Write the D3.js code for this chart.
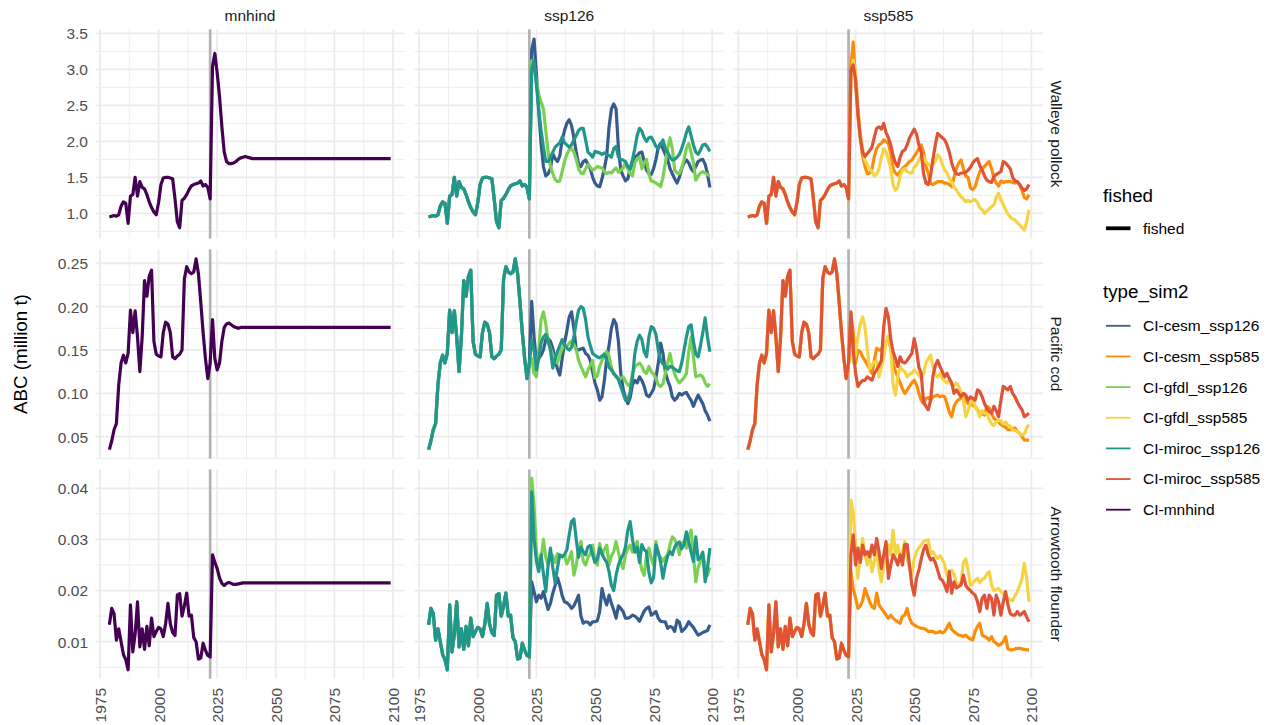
<!DOCTYPE html>
<html>
<head>
<meta charset="utf-8">
<script src="https://cdn.jsdelivr.net/npm/d3@7"></script>
<style>
  body { margin: 0; background: #ffffff; }
  svg text { font-family: "Liberation Sans", Arial, sans-serif; }
</style>
</head>
<body>
<svg id="chart" width="1266" height="725"></svg>
<script>
// ---------------------------------------------------------------
// Facet labels, series names and ticks
// ---------------------------------------------------------------
const scenarios = ["mnhind", "ssp126", "ssp585"];
const species = ["Walleye pollock", "Pacific cod", "Arrowtooth flounder"];
const seriesNames = ["CI-cesm_ssp126", "CI-cesm_ssp585", "CI-gfdl_ssp126", "CI-gfdl_ssp585",
                     "CI-miroc_ssp126", "CI-miroc_ssp585", "CI-mnhind"];
const seriesScenario = ["ssp126", "ssp585", "ssp126", "ssp585", "ssp126", "ssp585", "mnhind"];
const seriesColors = ["#365c8d", "#fb8d0c", "#7ad151", "#f5d444", "#21968b", "#df5337", "#440154"];

const xTicks = [1975, 2000, 2025, 2050, 2075, 2100];
const yTicksPollock = [1.0, 1.5, 2.0, 2.5, 3.0, 3.5];
const yTicksCod = [0.05, 0.10, 0.15, 0.20, 0.25];
const yTicksArrow = [0.01, 0.02, 0.03, 0.04];
const projectionStartLine = 2022;

const histStartYear = 1979;   // hindcast 1979-2022
const projStartYear = 2023;   // projections 2023-2099

// ---------------------------------------------------------------
// Hindcast ABC (million t), 1979-2022
// ---------------------------------------------------------------
const histPollock = [0.95,
  0.96, 0.97, 0.96, 0.98, 1.10, 1.16, 1.14, 0.86, 1.24, 1.26,
  1.50, 1.24, 1.44, 1.36, 1.34, 1.26, 1.16, 1.08, 1.02, 0.98,
  1.15, 1.40, 1.49, 1.50, 1.50, 1.49, 1.48, 1.20, 0.88, 0.80,
  1.18, 1.21, 1.26, 1.33, 1.38, 1.40, 1.41, 1.42, 1.45, 1.38,
  1.40, 1.36, 1.20];
const histCod = [0.035,
  0.045, 0.058, 0.065, 0.110, 0.135, 0.144, 0.135, 0.146, 0.196, 0.170,
  0.195, 0.165, 0.125, 0.165, 0.230, 0.212, 0.235, 0.242, 0.160, 0.145,
  0.143, 0.142, 0.170, 0.182, 0.180, 0.170, 0.142, 0.140, 0.143, 0.145,
  0.150, 0.232, 0.246, 0.240, 0.238, 0.240, 0.255, 0.238, 0.205, 0.170,
  0.140, 0.117, 0.135];
const histArrow = [0.0133,
  0.0165, 0.0155, 0.0103, 0.0125, 0.0100, 0.0075, 0.0065, 0.0045, 0.0172, 0.0080,
  0.0115, 0.0178, 0.0090, 0.0125, 0.0085, 0.0130, 0.0092, 0.0146, 0.0110, 0.0120,
  0.0128, 0.0125, 0.0110, 0.0135, 0.0175, 0.0135, 0.0118, 0.0112, 0.0191, 0.0194,
  0.0150, 0.0170, 0.0195, 0.0150, 0.0152, 0.0108, 0.0100, 0.0066, 0.0068, 0.0097,
  0.0083, 0.0073, 0.0070];

// ---------------------------------------------------------------
// Projections, 2023-2099 — Walleye pollock
// ---------------------------------------------------------------
const cesm126Pollock = [3.27, 3.42, 2.95, 2.40, 1.97, 1.65, 1.52,
  1.55, 1.62, 1.83, 1.76, 1.72, 1.80, 2.02, 2.15, 2.25, 2.30,
  2.22, 2.05, 1.85, 1.68, 1.65, 1.72, 1.74, 1.68, 1.62, 1.50,
  1.42, 1.38, 1.37, 1.48, 1.62, 1.80, 2.20, 2.45, 2.52, 2.45,
  1.90, 1.60, 1.52, 1.45, 1.48, 1.62, 1.70, 1.78, 1.80, 1.84,
  1.85, 1.72, 1.60, 1.55, 1.54, 1.62, 1.75, 1.92, 1.97, 1.90,
  1.82, 1.75, 1.62, 1.55, 1.48, 1.42, 1.50, 1.62, 1.70, 1.74,
  1.70, 1.62, 1.58, 1.65, 1.72, 1.74, 1.75, 1.68, 1.55, 1.36];
const gfdl126Pollock = [3.12, 3.05, 2.85, 2.65, 2.55, 2.45, 2.15,
  1.85, 1.65, 1.55, 1.47, 1.44, 1.45, 1.58, 1.72, 1.82, 1.88,
  1.90, 1.85, 1.75, 1.62, 1.56, 1.55, 1.62, 1.68, 1.64, 1.60,
  1.62, 1.65, 1.64, 1.63, 1.58, 1.55, 1.57, 1.56, 1.60, 1.63,
  1.57, 1.60, 1.63, 1.70, 1.62, 1.55, 1.52, 1.70, 1.76, 1.78,
  1.62, 1.70, 1.75, 1.55, 1.45, 1.44, 1.42, 1.40, 1.37, 1.50,
  1.70, 1.90, 2.05, 1.90, 1.60, 1.56, 1.55, 1.63, 1.75, 1.90,
  1.97, 1.85, 1.70, 1.46, 1.52, 1.56, 1.58, 1.56, 1.54, 1.52];
const miroc126Pollock = [3.00, 3.12, 2.78, 2.45, 2.15, 1.92, 1.72,
  1.72, 1.78, 1.85, 1.92, 1.95, 1.98, 2.06, 1.98, 1.95, 1.92,
  1.95, 2.02, 2.08, 2.15, 2.18, 2.18, 2.02, 1.85, 1.82, 1.78,
  1.86, 1.85, 1.84, 1.82, 1.84, 1.82, 1.80, 1.78, 1.90, 1.93,
  1.78, 1.75, 1.74, 1.72, 1.65, 1.62, 1.75, 1.90, 2.08, 2.18,
  2.14, 2.05, 2.00, 2.05, 2.06, 2.00, 1.93, 1.90, 1.95, 2.02,
  1.90, 1.85, 1.78, 1.74, 1.75, 1.78, 1.82, 1.90, 2.00, 2.12,
  2.20, 2.08, 1.95, 1.85, 1.82, 1.88, 1.95, 1.96, 1.92, 1.86];
const cesm585Pollock = [3.04, 3.38, 2.81, 2.34, 2.05, 1.80, 1.65,
  1.55, 1.56, 1.62, 1.79, 1.90, 1.95, 1.97, 2.02, 2.00, 1.97,
  1.83, 1.62, 1.56, 1.53, 1.58, 1.62, 1.65, 1.68, 1.72, 1.74,
  1.79, 1.84, 1.90, 1.95, 1.85, 1.65, 1.56, 1.42, 1.40, 1.42,
  1.44, 1.44, 1.44, 1.42, 1.42, 1.40, 1.37, 1.50, 1.62, 1.70,
  1.74, 1.62, 1.52, 1.50, 1.35, 1.33, 1.37, 1.48, 1.58, 1.62,
  1.65, 1.69, 1.72, 1.62, 1.50, 1.42, 1.38, 1.45, 1.43, 1.44,
  1.44, 1.44, 1.43, 1.42, 1.44, 1.40, 1.32, 1.22, 1.20, 1.26];
const gfdl585Pollock = [2.85, 3.13, 2.95, 2.50, 2.10, 1.90, 1.74,
  1.67, 1.62, 1.58, 1.52, 1.54, 1.62, 1.78, 1.90, 1.86, 1.75,
  1.62, 1.40, 1.32, 1.36, 1.52, 1.60, 1.62, 1.58, 1.56, 1.56,
  1.64, 1.67, 1.74, 1.80, 1.79, 1.72, 1.69, 1.65, 1.68, 1.72,
  1.81, 1.78, 1.68, 1.60, 1.56, 1.48, 1.44, 1.37, 1.32, 1.28,
  1.23, 1.20, 1.16, 1.18, 1.16, 1.18, 1.19, 1.15, 1.08, 1.05,
  1.00, 1.03, 1.06, 1.09, 1.12, 1.22, 1.28, 1.19, 1.12, 1.05,
  0.99, 0.95, 0.92, 0.91, 0.87, 0.84, 0.80, 0.77, 0.88, 1.05];
const miroc585Pollock = [2.99, 3.06, 2.85, 2.40, 2.05, 1.85, 1.79,
  1.83, 1.87, 1.92, 2.06, 2.18, 2.20, 2.17, 2.25, 2.12, 2.05,
  1.95, 1.80, 1.70, 1.65, 1.78, 1.86, 1.88, 1.95, 2.05, 2.11,
  2.17, 2.10, 1.95, 1.85, 1.55, 1.42, 1.40, 1.52, 1.75, 1.95,
  2.11, 2.08, 2.05, 2.02, 1.95, 1.85, 1.70, 1.60, 1.55, 1.54,
  1.56, 1.56, 1.57, 1.60, 1.64, 1.70, 1.74, 1.76, 1.66, 1.60,
  1.52, 1.46, 1.44, 1.43, 1.51, 1.54, 1.56, 1.58, 1.72, 1.70,
  1.66, 1.62, 1.50, 1.45, 1.44, 1.40, 1.35, 1.32, 1.34, 1.40];
const mnhindPollock = [3.04, 3.22, 2.95, 2.62, 2.20, 1.85, 1.72,
  1.69, 1.69, 1.70, 1.72, 1.75, 1.77, 1.78, 1.79, 1.78, 1.77,
  1.76, 1.76, 1.76, 1.76, 1.76, 1.76, 1.76, 1.76, 1.76, 1.76,
  1.76, 1.76, 1.76, 1.76, 1.76, 1.76, 1.76, 1.76, 1.76, 1.76,
  1.76, 1.76, 1.76, 1.76, 1.76, 1.76, 1.76, 1.76, 1.76, 1.76,
  1.76, 1.76, 1.76, 1.76, 1.76, 1.76, 1.76, 1.76, 1.76, 1.76,
  1.76, 1.76, 1.76, 1.76, 1.76, 1.76, 1.76, 1.76, 1.76, 1.76,
  1.76, 1.76, 1.76, 1.76, 1.76, 1.76, 1.76, 1.76, 1.76, 1.76];

// ---------------------------------------------------------------
// Projections, 2023-2099 — Pacific cod
// ---------------------------------------------------------------
const cesm126Cod = [0.206, 0.165, 0.135, 0.140, 0.144, 0.150, 0.162,
  0.163, 0.160, 0.152, 0.140, 0.128, 0.121, 0.140, 0.158, 0.172, 0.188,
  0.194, 0.175, 0.150, 0.150, 0.151, 0.152, 0.146, 0.144, 0.138, 0.125,
  0.112, 0.104, 0.092, 0.096, 0.115, 0.140, 0.155, 0.175, 0.185, 0.180,
  0.160, 0.123, 0.105, 0.095, 0.088, 0.095, 0.110, 0.115, 0.112, 0.119,
  0.115, 0.108, 0.098, 0.096, 0.100, 0.105, 0.118, 0.135, 0.158, 0.146,
  0.125, 0.115, 0.108, 0.096, 0.092, 0.095, 0.100, 0.098, 0.100, 0.101,
  0.096, 0.092, 0.085, 0.092, 0.098, 0.093, 0.088, 0.080, 0.075, 0.068];
const gfdl126Cod = [0.140, 0.123, 0.119, 0.150, 0.185, 0.194, 0.180,
  0.160, 0.152, 0.144, 0.138, 0.135, 0.144, 0.152, 0.154, 0.154, 0.158,
  0.160, 0.156, 0.150, 0.138, 0.131, 0.125, 0.119, 0.127, 0.132, 0.138,
  0.118, 0.120, 0.131, 0.138, 0.146, 0.148, 0.143, 0.130, 0.122, 0.119,
  0.116, 0.117, 0.119, 0.114, 0.110, 0.108, 0.123, 0.131, 0.133, 0.135,
  0.131, 0.125, 0.123, 0.131, 0.125, 0.122, 0.117, 0.110, 0.108, 0.111,
  0.123, 0.135, 0.146, 0.132, 0.122, 0.116, 0.112, 0.115, 0.118, 0.123,
  0.148, 0.165, 0.142, 0.119, 0.120, 0.121, 0.119, 0.112, 0.108, 0.111];
const miroc126Cod = [0.162, 0.150, 0.127, 0.140, 0.158, 0.165, 0.168,
  0.160, 0.150, 0.129, 0.140, 0.148, 0.155, 0.162, 0.156, 0.152, 0.150,
  0.153, 0.165, 0.182, 0.196, 0.200, 0.198, 0.185, 0.165, 0.155, 0.146,
  0.144, 0.142, 0.141, 0.143, 0.145, 0.138, 0.130, 0.127, 0.123, 0.120,
  0.116, 0.108, 0.100, 0.092, 0.092, 0.102, 0.118, 0.146, 0.160, 0.167,
  0.162, 0.148, 0.142, 0.165, 0.177, 0.175, 0.168, 0.150, 0.138, 0.134,
  0.131, 0.128, 0.131, 0.130, 0.128, 0.126, 0.125, 0.135, 0.150, 0.165,
  0.177, 0.179, 0.160, 0.145, 0.142, 0.155, 0.170, 0.187, 0.165, 0.148];
const cesm585Cod = [0.192, 0.170, 0.135, 0.150, 0.148, 0.142, 0.138,
  0.133, 0.128, 0.123, 0.138, 0.152, 0.150, 0.150, 0.158, 0.160, 0.162,
  0.152, 0.135, 0.125, 0.119, 0.112, 0.105, 0.100, 0.104, 0.108, 0.112,
  0.115, 0.110, 0.100, 0.092, 0.088, 0.094, 0.095, 0.092, 0.096, 0.097,
  0.098, 0.096, 0.097, 0.096, 0.088, 0.078, 0.073, 0.085, 0.090, 0.093,
  0.094, 0.096, 0.092, 0.088, 0.088, 0.086, 0.085, 0.081, 0.077, 0.076,
  0.075, 0.085, 0.083, 0.077, 0.071, 0.069, 0.067, 0.064, 0.062, 0.061,
  0.058, 0.058, 0.059, 0.060, 0.056, 0.054, 0.050, 0.046, 0.046, 0.046];
const gfdl585Cod = [0.165, 0.135, 0.145, 0.165, 0.180, 0.188, 0.177,
  0.150, 0.128, 0.133, 0.136, 0.138, 0.119, 0.130, 0.142, 0.160, 0.167,
  0.152, 0.110, 0.098, 0.119, 0.131, 0.127, 0.125, 0.119, 0.122, 0.123,
  0.127, 0.124, 0.121, 0.117, 0.123, 0.135, 0.140, 0.144, 0.131, 0.122,
  0.119, 0.123, 0.117, 0.114, 0.112, 0.115, 0.110, 0.108, 0.112, 0.108,
  0.100, 0.092, 0.073, 0.080, 0.088, 0.092, 0.085, 0.080, 0.073, 0.080,
  0.077, 0.077, 0.070, 0.065, 0.063, 0.067, 0.069, 0.068, 0.065, 0.067,
  0.063, 0.062, 0.058, 0.057, 0.056, 0.054, 0.052, 0.053, 0.060, 0.064];
const miroc585Cod = [0.194, 0.150, 0.123, 0.108, 0.112, 0.115, 0.115,
  0.119, 0.117, 0.115, 0.123, 0.127, 0.132, 0.138, 0.177, 0.198, 0.188,
  0.162, 0.148, 0.140, 0.131, 0.142, 0.136, 0.135, 0.138, 0.142, 0.146,
  0.163, 0.150, 0.130, 0.123, 0.090, 0.085, 0.081, 0.092, 0.120, 0.132,
  0.138, 0.131, 0.125, 0.119, 0.123, 0.117, 0.112, 0.100, 0.104, 0.100,
  0.096, 0.100, 0.098, 0.092, 0.096, 0.094, 0.092, 0.104, 0.102, 0.096,
  0.088, 0.083, 0.079, 0.077, 0.085, 0.080, 0.073, 0.092, 0.108, 0.106,
  0.104, 0.108, 0.100, 0.096, 0.090, 0.085, 0.081, 0.073, 0.075, 0.077];
const mnhindCod = [0.185, 0.140, 0.127, 0.135, 0.160, 0.176, 0.180,
  0.181, 0.179, 0.177, 0.176, 0.175, 0.176, 0.176, 0.176, 0.176, 0.176,
  0.176, 0.176, 0.176, 0.176, 0.176, 0.176, 0.176, 0.176, 0.176, 0.176,
  0.176, 0.176, 0.176, 0.176, 0.176, 0.176, 0.176, 0.176, 0.176, 0.176,
  0.176, 0.176, 0.176, 0.176, 0.176, 0.176, 0.176, 0.176, 0.176, 0.176,
  0.176, 0.176, 0.176, 0.176, 0.176, 0.176, 0.176, 0.176, 0.176, 0.176,
  0.176, 0.176, 0.176, 0.176, 0.176, 0.176, 0.176, 0.176, 0.176, 0.176,
  0.176, 0.176, 0.176, 0.176, 0.176, 0.176, 0.176, 0.176, 0.176, 0.176];

// ---------------------------------------------------------------
// Projections, 2023-2099 — Arrowtooth flounder
// ---------------------------------------------------------------
const cesm126Arrow = [0.0217, 0.0198, 0.0178, 0.0191, 0.0185, 0.0198, 0.0180,
  0.0163, 0.0175, 0.0195, 0.0210, 0.0225, 0.0210, 0.0190, 0.0178, 0.0176, 0.0172,
  0.0165, 0.0170, 0.0180, 0.0191, 0.0150, 0.0136, 0.0139, 0.0138, 0.0133, 0.0139,
  0.0139, 0.0141, 0.0159, 0.0204, 0.0185, 0.0172, 0.0191, 0.0175, 0.0162, 0.0146,
  0.0170, 0.0165, 0.0159, 0.0146, 0.0146, 0.0148, 0.0152, 0.0150, 0.0146, 0.0140,
  0.0150, 0.0160, 0.0165, 0.0168, 0.0152, 0.0155, 0.0159, 0.0146, 0.0140, 0.0139,
  0.0139, 0.0126, 0.0130, 0.0128, 0.0120, 0.0142, 0.0138, 0.0120, 0.0124, 0.0130,
  0.0139, 0.0133, 0.0128, 0.0120, 0.0113, 0.0115, 0.0118, 0.0120, 0.0122, 0.0133];
const gfdl126Arrow = [0.0420, 0.0367, 0.0276, 0.0243, 0.0262, 0.0300, 0.0265,
  0.0250, 0.0270, 0.0268, 0.0255, 0.0272, 0.0268, 0.0266, 0.0270, 0.0252, 0.0262,
  0.0276, 0.0230, 0.0250, 0.0280, 0.0296, 0.0257, 0.0250, 0.0265, 0.0272, 0.0289,
  0.0260, 0.0250, 0.0292, 0.0270, 0.0280, 0.0289, 0.0250, 0.0268, 0.0276, 0.0296,
  0.0275, 0.0255, 0.0243, 0.0270, 0.0282, 0.0289, 0.0275, 0.0280, 0.0296, 0.0263,
  0.0240, 0.0230, 0.0270, 0.0283, 0.0262, 0.0250, 0.0296, 0.0270, 0.0265, 0.0257,
  0.0265, 0.0270, 0.0289, 0.0305, 0.0300, 0.0290, 0.0270, 0.0292, 0.0296, 0.0283,
  0.0305, 0.0318, 0.0270, 0.0217, 0.0245, 0.0257, 0.0270, 0.0250, 0.0230, 0.0245];
const miroc126Arrow = [0.0393, 0.0302, 0.0257, 0.0237, 0.0270, 0.0233, 0.0198,
  0.0250, 0.0283, 0.0245, 0.0215, 0.0245, 0.0270, 0.0266, 0.0270, 0.0280, 0.0309,
  0.0335, 0.0340, 0.0300, 0.0265, 0.0285, 0.0276, 0.0270, 0.0286, 0.0288, 0.0270,
  0.0255, 0.0262, 0.0283, 0.0272, 0.0262, 0.0255, 0.0237, 0.0210, 0.0200, 0.0230,
  0.0250, 0.0262, 0.0270, 0.0285, 0.0318, 0.0335, 0.0300, 0.0275, 0.0285, 0.0255,
  0.0290, 0.0280, 0.0276, 0.0235, 0.0215, 0.0225, 0.0289, 0.0275, 0.0255, 0.0224,
  0.0250, 0.0268, 0.0276, 0.0270, 0.0285, 0.0292, 0.0295, 0.0282, 0.0290, 0.0315,
  0.0295, 0.0275, 0.0257, 0.0305, 0.0260, 0.0265, 0.0275, 0.0217, 0.0243, 0.0283];
const cesm585Arrow = [0.0237, 0.0204, 0.0185, 0.0165, 0.0170, 0.0180, 0.0204,
  0.0191, 0.0178, 0.0168, 0.0165, 0.0195, 0.0172, 0.0165, 0.0159, 0.0152, 0.0146,
  0.0152, 0.0146, 0.0142, 0.0139, 0.0136, 0.0150, 0.0152, 0.0165, 0.0146, 0.0136,
  0.0133, 0.0130, 0.0128, 0.0126, 0.0126, 0.0124, 0.0120, 0.0120, 0.0120, 0.0117,
  0.0118, 0.0120, 0.0117, 0.0120, 0.0128, 0.0136, 0.0124, 0.0120, 0.0116, 0.0113,
  0.0112, 0.0110, 0.0113, 0.0108, 0.0105, 0.0103, 0.0120, 0.0130, 0.0136, 0.0113,
  0.0110, 0.0108, 0.0103, 0.0110, 0.0100, 0.0097, 0.0093, 0.0095, 0.0100, 0.0110,
  0.0086, 0.0084, 0.0084, 0.0086, 0.0087, 0.0087, 0.0086, 0.0085, 0.0084, 0.0084];
const gfdl585Arrow = [0.0377, 0.0354, 0.0290, 0.0224, 0.0270, 0.0302, 0.0270,
  0.0250, 0.0276, 0.0237, 0.0257, 0.0276, 0.0240, 0.0217, 0.0250, 0.0270, 0.0289,
  0.0270, 0.0318, 0.0270, 0.0289, 0.0265, 0.0275, 0.0296, 0.0263, 0.0243, 0.0230,
  0.0262, 0.0276, 0.0283, 0.0289, 0.0296, 0.0298, 0.0299, 0.0272, 0.0276, 0.0268,
  0.0263, 0.0268, 0.0262, 0.0250, 0.0228, 0.0238, 0.0240, 0.0232, 0.0215, 0.0211,
  0.0216, 0.0255, 0.0262, 0.0240, 0.0210, 0.0214, 0.0220, 0.0224, 0.0215, 0.0222,
  0.0224, 0.0232, 0.0237, 0.0211, 0.0200, 0.0202, 0.0204, 0.0198, 0.0195, 0.0185,
  0.0185, 0.0182, 0.0180, 0.0190, 0.0198, 0.0210, 0.0224, 0.0253, 0.0224, 0.0178];
const miroc585Arrow = [0.0270, 0.0309, 0.0250, 0.0283, 0.0255, 0.0289, 0.0270,
  0.0276, 0.0266, 0.0289, 0.0270, 0.0302, 0.0276, 0.0243, 0.0270, 0.0296, 0.0224,
  0.0250, 0.0270, 0.0262, 0.0250, 0.0270, 0.0250, 0.0290, 0.0290, 0.0250, 0.0211,
  0.0191, 0.0224, 0.0240, 0.0262, 0.0280, 0.0289, 0.0270, 0.0260, 0.0263, 0.0255,
  0.0240, 0.0224, 0.0220, 0.0211, 0.0198, 0.0237, 0.0195, 0.0217, 0.0205, 0.0208,
  0.0211, 0.0230, 0.0210, 0.0204, 0.0200, 0.0195, 0.0191, 0.0178, 0.0159, 0.0185,
  0.0191, 0.0165, 0.0191, 0.0185, 0.0152, 0.0191, 0.0178, 0.0152, 0.0178, 0.0198,
  0.0172, 0.0155, 0.0152, 0.0152, 0.0159, 0.0152, 0.0155, 0.0159, 0.0148, 0.0139];
const mnhindArrow = [0.0270, 0.0255, 0.0243, 0.0225, 0.0214, 0.0210, 0.0214,
  0.0216, 0.0214, 0.0212, 0.0212, 0.0213, 0.0214, 0.0215, 0.0215, 0.0215, 0.0215,
  0.0215, 0.0215, 0.0215, 0.0215, 0.0215, 0.0215, 0.0215, 0.0215, 0.0215, 0.0215,
  0.0215, 0.0215, 0.0215, 0.0215, 0.0215, 0.0215, 0.0215, 0.0215, 0.0215, 0.0215,
  0.0215, 0.0215, 0.0215, 0.0215, 0.0215, 0.0215, 0.0215, 0.0215, 0.0215, 0.0215,
  0.0215, 0.0215, 0.0215, 0.0215, 0.0215, 0.0215, 0.0215, 0.0215, 0.0215, 0.0215,
  0.0215, 0.0215, 0.0215, 0.0215, 0.0215, 0.0215, 0.0215, 0.0215, 0.0215, 0.0215,
  0.0215, 0.0215, 0.0215, 0.0215, 0.0215, 0.0215, 0.0215, 0.0215, 0.0215, 0.0215];

// ---------------------------------------------------------------
// Assemble the long table: one row per (species, series)
// ---------------------------------------------------------------
const hindcasts = [histPollock, histCod, histArrow];
const projections = [
  [cesm126Pollock, cesm585Pollock, gfdl126Pollock, gfdl585Pollock, miroc126Pollock, miroc585Pollock, mnhindPollock],
  [cesm126Cod, cesm585Cod, gfdl126Cod, gfdl585Cod, miroc126Cod, miroc585Cod, mnhindCod],
  [cesm126Arrow, cesm585Arrow, gfdl126Arrow, gfdl585Arrow, miroc126Arrow, miroc585Arrow, mnhindArrow]
];

const table = [];
species.forEach((sp, si) => {
  seriesNames.forEach((name, k) => {
    const pts = hindcasts[si].map((v, i) => ({ year: histStartYear + i, value: v }))
      .concat(projections[si][k].map((v, i) => ({ year: projStartYear + i, value: v })));
    table.push({ species: sp, scenario: seriesScenario[k], name, color: seriesColors[k], points: pts });
  });
});

// ---------------------------------------------------------------
// Layout
// ---------------------------------------------------------------
const colLeft = [95.3, 414.5, 733.7];
const panelW = 309.4;
const rowTop = [29.3, 249.3, 469.5];
const panelH = 209.3;
const xDomain = [1973, 2105];
const yDomains = [[0.649, 3.556], [0.0247, 0.2661], [0.00274, 0.04368]];
const yTicks = [yTicksPollock, yTicksCod, yTicksArrow];
const yFormats = [d3.format(".1f"), d3.format(".2f"), d3.format(".2f")];

const gridColor = "#ebebeb";
const axisTextColor = "#4d4d4d";
const smallFont = 15.5;
const bigFont = 18.75;

const svg = d3.select("#chart");

function minorBreaks(major, domain) {
  const step = major[1] - major[0];
  const out = [];
  for (let i = -1; i < major.length; i++) {
    const m = major[0] + (i + 0.5) * step;
    if (m >= domain[0] && m <= domain[1]) out.push(m);
  }
  return out;
}

const line = (x, y) => d3.line().x(d => x(d.year)).y(d => y(d.value));

species.forEach((sp, r) => {
  const y = d3.scaleLinear().domain(yDomains[r]).range([rowTop[r] + panelH, rowTop[r]]);
  const yMinor = minorBreaks(yTicks[r], yDomains[r]);

  scenarios.forEach((sc, c) => {
    const x = d3.scaleLinear().domain(xDomain).range([colLeft[c], colLeft[c] + panelW]);
    const xMinor = minorBreaks(xTicks, xDomain);
    const g = svg.append("g").attr("class", "panel");
    const x0 = colLeft[c], x1 = colLeft[c] + panelW;
    const y0 = rowTop[r], y1 = rowTop[r] + panelH;

    // minor grid
    g.selectAll(".ymin").data(yMinor).join("line")
      .attr("x1", x0).attr("x2", x1).attr("y1", d => y(d)).attr("y2", d => y(d))
      .attr("stroke", gridColor).attr("stroke-width", 0.9);
    g.selectAll(".xmin").data(xMinor).join("line")
      .attr("y1", y0).attr("y2", y1).attr("x1", d => x(d)).attr("x2", d => x(d))
      .attr("stroke", gridColor).attr("stroke-width", 0.9);
    // major grid
    g.selectAll(".ymaj").data(yTicks[r]).join("line")
      .attr("x1", x0).attr("x2", x1).attr("y1", d => y(d)).attr("y2", d => y(d))
      .attr("stroke", gridColor).attr("stroke-width", 1.8);
    g.selectAll(".xmaj").data(xTicks).join("line")
      .attr("y1", y0).attr("y2", y1).attr("x1", d => x(d)).attr("x2", d => x(d))
      .attr("stroke", gridColor).attr("stroke-width", 1.8);

    // start of projection period
    g.append("line")
      .attr("x1", x(projectionStartLine)).attr("x2", x(projectionStartLine))
      .attr("y1", y0).attr("y2", y1)
      .attr("stroke", "#b3b3b3").attr("stroke-width", 2.7);

    // series
    table.filter(t => t.species === sp && t.scenario === sc).forEach(t => {
      g.append("path")
        .attr("d", line(x, y)(t.points))
        .attr("fill", "none")
        .attr("stroke", t.color)
        .attr("stroke-width", 3.2)
        .attr("stroke-linejoin", "round");
    });

    // x axis on the bottom row
    if (r === species.length - 1) {
      const ax = svg.append("g").attr("transform", `translate(0,${y1})`)
        .call(d3.axisBottom(x).tickValues(xTicks).tickSize(0).tickFormat(d3.format("d")));
      ax.select(".domain").remove();
      ax.selectAll("text")
        .attr("transform", "rotate(-90)")
        .attr("text-anchor", "end")
        .attr("x", -9.2).attr("y", 0).attr("dy", "0.35em")
        .attr("fill", axisTextColor)
        .style("font-size", smallFont + "px")
        .style("font-family", '"Liberation Sans", Arial, sans-serif');
    }

    // top strips
    if (r === 0) {
      svg.append("text")
        .attr("x", (x0 + x1) / 2).attr("y", 20.8)
        .attr("text-anchor", "middle")
        .attr("fill", "#1a1a1a")
        .style("font-size", smallFont + "px")
        .text(sc);
    }
  });

  // y axis on the left column
  const ay = svg.append("g").attr("transform", `translate(${colLeft[0]},0)`)
    .call(d3.axisLeft(y).tickValues(yTicks[r]).tickSize(0).tickPadding(7.3).tickFormat(yFormats[r]));
  ay.select(".domain").remove();
  ay.selectAll("text")
    .attr("fill", axisTextColor)
    .attr("dy", "0.35em")
    .style("font-size", smallFont + "px")
    .style("font-family", '"Liberation Sans", Arial, sans-serif');

  // right strips
  const cy = rowTop[r] + panelH / 2;
  svg.append("text")
    .attr("transform", `translate(1056,${cy}) rotate(90)`)
    .attr("text-anchor", "middle")
    .attr("dy", "0.35em")
    .attr("fill", "#1a1a1a")
    .style("font-size", smallFont + "px")
    .text(sp);
});

// y axis title
svg.append("text")
  .attr("transform", `translate(20,${(rowTop[0] + rowTop[2] + panelH) / 2}) rotate(-90)`)
  .attr("text-anchor", "middle")
  .attr("dy", "0.35em")
  .attr("fill", "#000")
  .style("font-size", bigFont + "px")
  .text("ABC (million t)");

// ---------------------------------------------------------------
// Legends
// ---------------------------------------------------------------
const legX = 1103, keyX0 = 1106, keyX1 = 1130.5, labX = 1143;

svg.append("text").attr("x", legX).attr("y", 201.7)
  .attr("fill", "#000").style("font-size", bigFont + "px").text("fished");
svg.append("line").attr("x1", keyX0).attr("x2", keyX1).attr("y1", 228.3).attr("y2", 228.3)
  .attr("stroke", "#000").attr("stroke-width", 3.8);
svg.append("text").attr("x", labX).attr("y", 228.3).attr("dy", "0.35em")
  .attr("fill", "#000").style("font-size", smallFont + "px").text("fished");

svg.append("text").attr("x", legX).attr("y", 298.2)
  .attr("fill", "#000").style("font-size", bigFont + "px").text("type_sim2");

const leg = svg.append("g");
seriesNames.forEach((name, i) => {
  const ly = 325.8 + i * 30.65;
  leg.append("line").attr("x1", keyX0).attr("x2", keyX1).attr("y1", ly).attr("y2", ly)
    .attr("stroke", seriesColors[i]).attr("stroke-width", 1.8);
  leg.append("text").attr("x", labX).attr("y", ly).attr("dy", "0.35em")
    .attr("fill", "#000").style("font-size", smallFont + "px").text(name);
});
</script>
</body>
</html>
